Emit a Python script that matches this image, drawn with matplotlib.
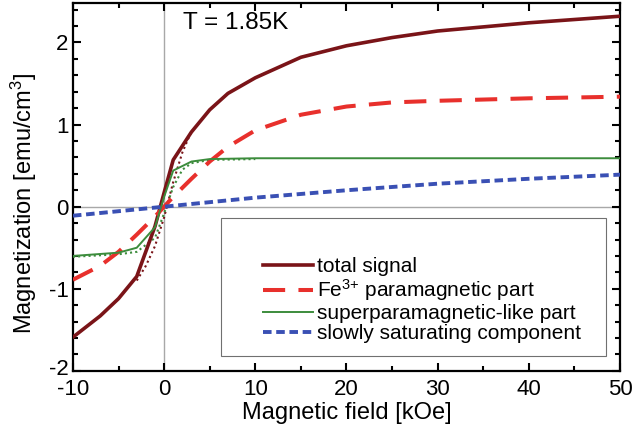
import matplotlib
matplotlib.use("Agg")
import matplotlib.pyplot as plt
from matplotlib.patches import Rectangle
from matplotlib.ticker import MultipleLocator
from matplotlib.transforms import ScaledTranslation

plt.rcParams['font.family'] = ['Liberation Sans', 'DejaVu Sans']
plt.rcParams['mathtext.fontset'] = 'custom'
plt.rcParams['mathtext.rm'] = 'Liberation Sans'
plt.rcParams['mathtext.default'] = 'regular'
plt.rcParams['axes.unicode_minus'] = False

# total signal (solid) and its dotted counterpart near zero field
h_total = [-10, -7, -5, -3, -1, 0, 1, 3, 5, 7, 10, 15, 20, 25, 30, 35, 40, 45, 50]
m_total = [-1.59, -1.33, -1.12, -0.85, -0.24, 0.17, 0.57, 0.91, 1.18, 1.38, 1.57,
           1.82, 1.96, 2.06, 2.14, 2.19, 2.24, 2.28, 2.32]
h_total_dot = [-3, -2, -1, 0, 1, 2, 3]
m_total_dot = [-0.90, -0.72, -0.48, -0.13, 0.30, 0.66, 0.92]

# Fe3+ paramagnetic part
h_fe = [-10, -7, -5, -3, -1, 0, 1, 3, 5, 7, 10, 15, 20, 25, 30, 40, 50]
m_fe = [-0.89, -0.72, -0.55, -0.34, -0.12, 0.0, 0.12, 0.34, 0.55, 0.73, 0.93,
        1.12, 1.22, 1.27, 1.29, 1.32, 1.34]

# superparamagnetic-like part (solid) and dotted counterpart
h_sp = [-10, -5, -3, -1, 0, 1, 3, 5, 10, 20, 30, 40, 50]
m_sp = [-0.60, -0.56, -0.50, -0.25, 0.12, 0.44, 0.55, 0.58, 0.59, 0.59, 0.59, 0.59, 0.59]
h_sp_dot = [-10, -5, -3, -1, 0, 1, 2, 3, 5, 10]
m_sp_dot = [-0.61, -0.58, -0.55, -0.38, -0.08, 0.24, 0.45, 0.53, 0.57, 0.58]

# slowly saturating component
h_slow = [-10, 0, 10, 20, 30, 40, 50]
m_slow = [-0.11, 0.0, 0.11, 0.20, 0.28, 0.34, 0.39]

c_total = '#7a1418'
c_fe = '#e8302c'
c_sp = '#3c8c3c'
c_slow = '#3a50b4'

fig = plt.figure(figsize=(6.34, 4.41), dpi=100)
ax = fig.add_axes([0.115, 0.159, 0.863, 0.834])

ax.axvline(0, color='#a8a8a8', lw=1, zorder=1)
ax.axhline(0, color='#a8a8a8', lw=1, zorder=1)

ax.plot(h_total_dot, m_total_dot, color=c_total, lw=1.5, ls=(0, (1, 1.5)), zorder=3)
ax.plot(h_sp_dot, m_sp_dot, color=c_sp, lw=1.5, ls=(0, (1, 1.5)), zorder=3)
l1, = ax.plot(h_total, m_total, color=c_total, lw=2.6, zorder=4)
l2, = ax.plot(h_fe, m_fe, color=c_fe, lw=2.9, ls=(0, (5.5, 3.3)), zorder=4)
l3, = ax.plot(h_sp, m_sp, color=c_sp, lw=1.4, zorder=4)
l4, = ax.plot(h_slow, m_slow, color=c_slow, lw=2.8, ls=(0, (2.2, 1.2)), zorder=4)

ax.set_xlim(-10, 50)
ax.set_ylim(-2, 2.48)
ax.xaxis.set_major_locator(MultipleLocator(10))
ax.xaxis.set_minor_locator(MultipleLocator(5))
ax.yaxis.set_major_locator(MultipleLocator(1))
ax.yaxis.set_minor_locator(MultipleLocator(0.2))
ax.tick_params(which='both', direction='in', top=True, right=True, width=1.5,
               labelsize=16)
ax.tick_params(axis='x', pad=5.5)
ax.tick_params(axis='y', pad=3)
ax.tick_params(which='major', length=6)
ax.tick_params(which='minor', length=3.5)
for s in ax.spines.values():
    s.set_linewidth(1.6)

ax.set_xlabel('Magnetic field [kOe]', fontsize=17, labelpad=2)
ax.set_ylabel('Magnetization [emu/cm$^3$]', fontsize=17)
ax.yaxis.set_label_coords(-0.062, 0.455)

ax.text(0.201, 0.975, 'T = 1.85K', transform=ax.transAxes, fontsize=17.5,
        ha='left', va='top')

ax.add_patch(Rectangle((0.271, 0.04), 0.704, 0.377, transform=ax.transAxes,
                       fill=True, facecolor='white', edgecolor='#707070', lw=0.8, zorder=5))
leg = ax.legend([l1, l2, l3, l4],
                ['total signal', 'Fe$^{3{+}}$ paramagnetic part',
                 'superparamagnetic-like part', 'slowly saturating component'],
                loc='lower left', bbox_to_anchor=(0.347, 0.075), frameon=False,
                fontsize=15, handlelength=2.4, handletextpad=0.2,
                labelspacing=0.05, borderpad=0, borderaxespad=0)
leg.set_zorder(6)

# lift the lowest y tick label a little so it does not run into "-10"
fig.canvas.draw()
for lbl in ax.get_yticklabels():
    if lbl.get_text() == '-2':
        lbl.set_transform(lbl.get_transform() + ScaledTranslation(0, 3 / 72, fig.dpi_scale_trans))

fig.savefig('out.png', dpi=100)
